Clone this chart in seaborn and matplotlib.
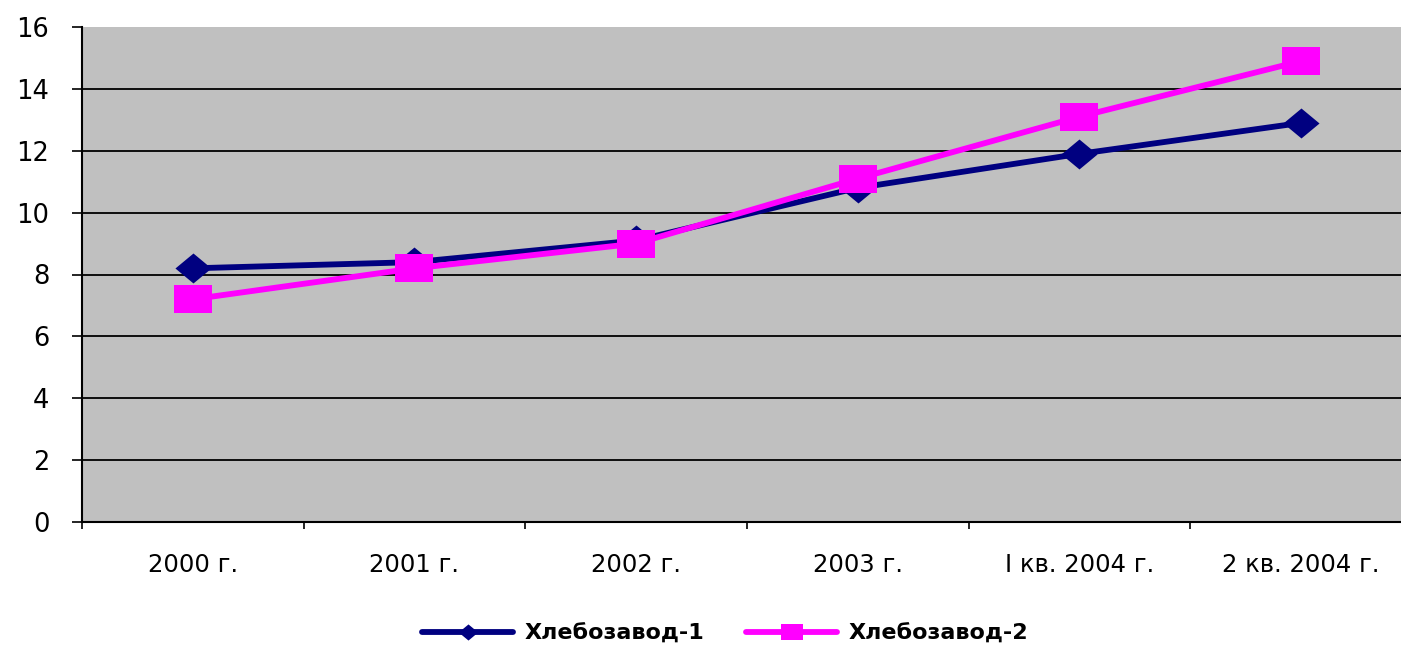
import matplotlib
matplotlib.use("Agg")
import matplotlib.pyplot as plt
from matplotlib.lines import Line2D
import seaborn as sns
import pandas as pd
import numpy as np

categories = ["2000 г.", "2001 г.", "2002 г.", "2003 г.", "I кв. 2004 г.", "2 кв. 2004 г."]
series1_name = "Хлебозавод-1"
series2_name = "Хлебозавод-2"
series1 = [8.2, 8.4, 9.1, 10.8, 11.9, 12.9]
series2 = [7.2, 8.2, 9.0, 11.1, 13.1, 14.9]
y_ticks = [0, 2, 4, 6, 8, 10, 12, 14, 16]

sns.set_theme(style="white")
plt.rcParams['font.family'] = ['DejaVu Sans']
plt.rcParams['text.color'] = 'black'

df = pd.DataFrame({
    "pos": list(range(len(categories))) * 2,
    "value": series1 + series2,
    "series": [series1_name] * len(categories) + [series2_name] * len(categories),
})

# horizontally stretched marker shapes (as in the reference)
diamond = [(-1.0, 0.0), (0.0, 0.83), (1.0, 0.0), (0.0, -0.83), (-1.0, 0.0)]
rect = [(-1.0, -0.71), (1.0, -0.71), (1.0, 0.71), (-1.0, 0.71), (-1.0, -0.71)]

fig = plt.figure(figsize=(14.01, 6.46), dpi=100)
ax = fig.add_axes([82 / 1401, (646 - 522) / 646, 1330 / 1401, 495 / 646])
ax.set_facecolor("#C0C0C0")

palette = {series1_name: "#000080", series2_name: "#FF00FF"}
markers = {series1_name: diamond, series2_name: rect}
sns.lineplot(data=df, x="pos", y="value", hue="series", style="series",
             palette=palette, markers=markers, dashes=False, linewidth=4.2,
             markersize=26, markeredgewidth=0, ax=ax, legend=False, zorder=3)
lines = ax.get_lines()
if len(lines) >= 2:
    lines[0].set_markersize(26)
    lines[1].set_markersize(27.5)

ax.set_xlim(-0.5, len(categories) - 0.5)
ax.set_ylim(0, 16)
ax.set_yticks(y_ticks)
ax.set_yticklabels([str(t) for t in y_ticks], fontsize=18.5)
ax.set_xticks(range(len(categories)))
ax.set_xticklabels(categories, fontsize=17.5)
ax.set_xticks(np.arange(-0.5, len(categories), 1.0), minor=True)
ax.tick_params(axis="x", which="major", length=0, pad=22, colors="black")
ax.tick_params(axis="x", which="minor", length=5, width=1.2, direction="out", colors="black")
ax.tick_params(axis="y", which="major", length=7.5, width=1.2, direction="out", pad=16, colors="black")
ax.xaxis.set_ticks_position("bottom")
ax.yaxis.set_ticks_position("left")
for t in ax.get_xticklabels() + ax.get_yticklabels():
    t.set_color("black")

for y in y_ticks[1:-1]:
    ax.axhline(y, color="black", linewidth=1.3, zorder=1)

ax.set_xlabel("")
ax.set_ylabel("")
for side in ["top", "right"]:
    ax.spines[side].set_visible(False)
for side in ["left", "bottom"]:
    ax.spines[side].set_color("black")
    ax.spines[side].set_linewidth(1.5)

handles = [
    Line2D([], [], color="#000080", marker=diamond, markersize=14, linewidth=4.2, markeredgewidth=0),
    Line2D([], [], color="#FF00FF", marker=rect, markersize=16, linewidth=4.2, markeredgewidth=0),
]
leg = fig.legend(handles, [series1_name, series2_name], loc="center",
                 bbox_to_anchor=(725 / 1401, (646 - 634) / 646), ncol=2, frameon=False,
                 prop={"family": "DejaVu Sans", "weight": "bold", "size": 16},
                 handlelength=4.1, columnspacing=1.9, handletextpad=0.5,
                 borderpad=0.0, borderaxespad=0.0)
for t in leg.get_texts():
    t.set_color("black")

fig.savefig("out.png", dpi=100, facecolor="white")
